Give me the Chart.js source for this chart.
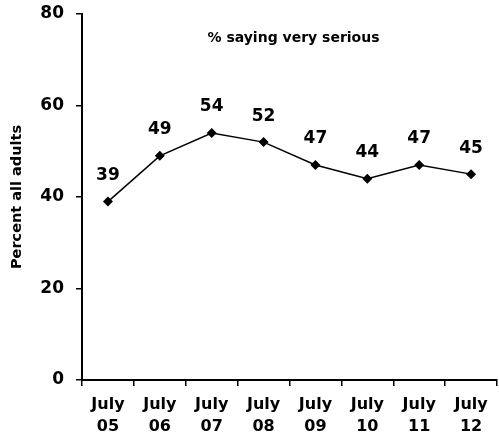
<!DOCTYPE html>
<html>
<head>
<meta charset="utf-8">
<script src="https://cdn.jsdelivr.net/npm/chart.js@4"></script>
<style>
  html, body { margin: 0; padding: 0; background: #fff; overflow: hidden; }
  .wrap { width: 502px; height: 438px; }
</style>
</head>
<body>
<div class="wrap"><canvas class="my-chart"></canvas></div>
<script>
const myChart = document.querySelector(".my-chart");

const categories = [["July", "05"], ["July", "06"], ["July", "07"], ["July", "08"],
                    ["July", "09"], ["July", "10"], ["July", "11"], ["July", "12"]];
const verySerious = [39, 49, 54, 52, 47, 44, 47, 45];
const yTicks = [0, 20, 40, 60, 80];

const FONT = "'DejaVu Sans', Verdana, sans-serif";

// value labels above each point + inner title
const labelsPlugin = {
    id: "labels",
    afterDatasetsDraw(chart) {
        const ctx = chart.ctx;
        const meta = chart.getDatasetMeta(0);
        ctx.save();
        ctx.fillStyle = "#000";
        ctx.font = "bold 17px " + FONT;
        ctx.textAlign = "center";
        ctx.textBaseline = "middle";
        meta.data.forEach((pt, i) => {
            ctx.fillText(verySerious[i], pt.x, pt.y - 26);
        });
        const area = chart.chartArea;
        ctx.font = "bold 14px " + FONT;
        ctx.fillText("% saying very serious", (area.left + area.right) / 2 + 4, area.top + 24);
        ctx.restore();
    },
};

new Chart(myChart, {
    type: "line",
    data: {
        labels: categories,
        datasets: [
            {
                data: verySerious,
                borderColor: "#000",
                borderWidth: 1.5,
                backgroundColor: "#000",
                pointStyle: "rectRot",
                pointRadius: 5,
                pointBorderWidth: 0,
                tension: 0,
            },
        ],
    },
    options: {
        responsive: true,
        maintainAspectRatio: false,
        animation: false,
        layout: { padding: { top: 14, left: 0, right: 0, bottom: 0 } },
        plugins: {
            legend: { display: false },
            tooltip: { enabled: false },
        },
        scales: {
            x: {
                offset: true,
                grid: {
                    offset: true,
                    drawOnChartArea: false,
                    tickLength: 6,
                    color: "#000",
                    lineWidth: 1.5,
                },
                border: { color: "#000", width: 2 },
                ticks: {
                    color: "#000",
                    font: { family: FONT, size: 16, weight: "bold", lineHeight: 1.35 },
                    padding: 8,
                    maxRotation: 0,
                    autoSkip: false,
                },
                afterFit(scale) { scale.height = 58; },
            },
            y: {
                min: 0,
                max: 80,
                afterBuildTicks(scale) { scale.ticks = yTicks.map(v => ({ value: v })); },
                grid: {
                    drawOnChartArea: false,
                    tickLength: 6,
                    color: "#000",
                    lineWidth: 1.5,
                },
                border: { color: "#000", width: 2 },
                ticks: {
                    color: "#000",
                    font: { family: FONT, size: 17, weight: "bold" },
                    padding: 12,
                },
                title: {
                    display: true,
                    text: "Percent all adults",
                    color: "#000",
                    font: { family: FONT, size: 14.5, weight: "bold" },
                    padding: { top: 9, bottom: 0 },
                },
                afterFit(scale) {
                    scale.width = 82;
                    scale.paddingTop = 0;
                    scale.paddingBottom = 0;
                },
            },
        },
    },
    plugins: [labelsPlugin],
});
</script>
</body>
</html>
